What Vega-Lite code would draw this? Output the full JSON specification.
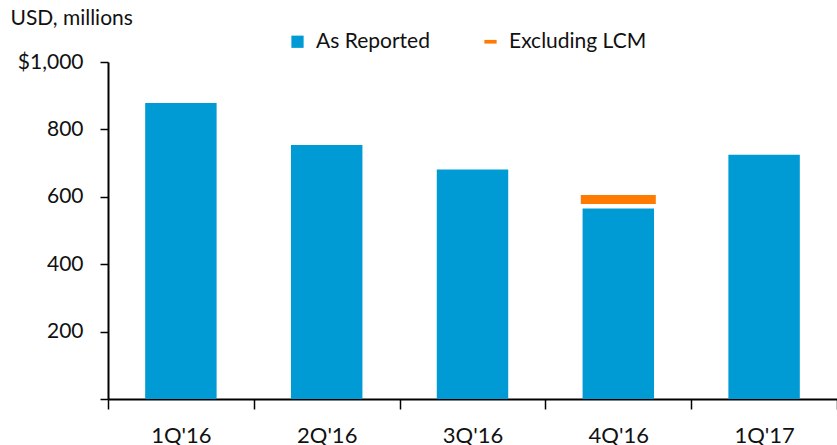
{
  "$schema": "https://vega.github.io/schema/vega-lite/v6.json",
  "width": 729,
  "height": 337,
  "autosize": {"type": "none"},
  "padding": {"left": 108, "top": 62, "right": 0, "bottom": 46},
  "background": "white",
  "config": {
    "font": "Lato",
    "view": {"stroke": null},
    "axis": {"labelFont": "Lato", "titleFont": "Lato", "labelColor": "#111", "titleColor": "#111", "grid": false},
    "legend": {"labelFont": "Lato"}
  },
  "datasets": {
    "reported": [
      {"quarter": "1Q'16", "value": 878, "series": "As Reported"},
      {"quarter": "2Q'16", "value": 754, "series": "As Reported"},
      {"quarter": "3Q'16", "value": 681, "series": "As Reported"},
      {"quarter": "4Q'16", "value": 565, "series": "As Reported"},
      {"quarter": "1Q'17", "value": 725, "series": "As Reported"}
    ],
    "excluding": [
      {"quarter": "4Q'16", "value": 592, "series": "Excluding LCM"}
    ],
    "legendrows": [
      {"quarter": "1Q'16", "value": 0, "series": "As Reported"},
      {"quarter": "1Q'16", "value": 0, "series": "Excluding LCM"}
    ]
  },
  "encoding": {
    "x": {
      "field": "quarter",
      "type": "nominal",
      "sort": ["1Q'16", "2Q'16", "3Q'16", "4Q'16", "1Q'17"],
      "scale": {"paddingInner": 0, "paddingOuter": 0},
      "axis": {
        "title": null,
        "labelAngle": 0,
        "labelFontSize": 22,
        "labelPadding": 16,
        "tickBand": "extent",
        "tickSize": 10,
        "tickWidth": 1.5,
        "tickColor": "#000",
        "domainColor": "#000",
        "domainWidth": 2
      }
    },
    "y": {
      "field": "value",
      "type": "quantitative",
      "scale": {"domain": [0, 1000], "nice": false},
      "axis": {
        "title": "USD, millions",
        "titleAngle": 0,
        "titleX": -98,
        "titleY": -44,
        "titleAlign": "left",
        "titleBaseline": "middle",
        "titleFontSize": 21,
        "titleFontWeight": "normal",
        "values": [0, 200, 400, 600, 800, 1000],
        "labelExpr": "datum.value == 1000 ? '$1,000' : (datum.value == 0 ? '' : format(datum.value, ','))",
        "labelFontSize": 21,
        "labelPadding": 17,
        "tickSize": 8,
        "tickWidth": 1.5,
        "tickColor": "#000",
        "domainColor": "#000",
        "domainWidth": 2
      }
    }
  },
  "layer": [
    {
      "data": {"name": "reported"},
      "mark": {"type": "bar", "width": {"band": 0.49}},
      "encoding": {
        "color": {
          "field": "series",
          "type": "nominal",
          "scale": {"domain": ["As Reported", "Excluding LCM"], "range": ["#009BD5", "#FF7A00"]}
        }
      }
    },
    {
      "data": {"name": "excluding"},
      "mark": {"type": "tick", "thickness": 9, "size": 75, "opacity": 1},
      "encoding": {
        "color": {"field": "series", "type": "nominal"}
      }
    },
    {
      "data": {"name": "legendrows"},
      "mark": {"type": "point", "filled": true, "opacity": 0, "size": 150},
      "encoding": {
        "color": {
          "field": "series",
          "type": "nominal",
          "legend": {
            "title": null,
            "orient": "none",
            "direction": "horizontal",
            "legendX": 179,
            "legendY": -31,
            "labelFontSize": 21,
            "labelColor": "#111",
            "symbolOpacity": 1,
            "symbolSize": 150,
            "columnPadding": 50,
            "labelOffset": 8
          }
        },
        "shape": {
          "field": "series",
          "type": "nominal",
          "scale": {"domain": ["As Reported", "Excluding LCM"], "range": ["square", "M-1,-0.3H1V0.3H-1Z"]},
          "legend": {
            "title": null,
            "orient": "none",
            "direction": "horizontal",
            "legendX": 179,
            "legendY": -31,
            "labelFontSize": 21,
            "labelColor": "#111",
            "symbolOpacity": 1,
            "symbolSize": 150,
            "columnPadding": 50,
            "labelOffset": 8
          }
        }
      }
    }
  ]
}
